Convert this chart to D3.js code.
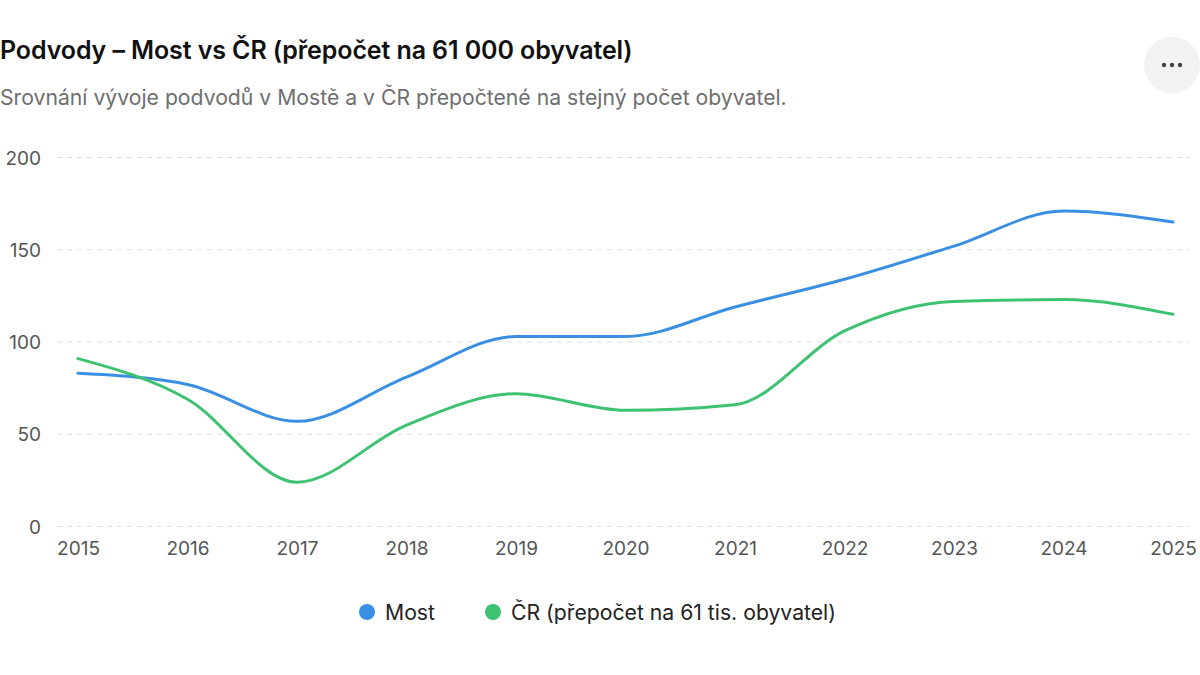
<!DOCTYPE html>
<html><head><meta charset="utf-8">
<script src="https://cdn.jsdelivr.net/npm/d3@7"></script>
<style>
html,body{margin:0;padding:0;background:#fff;}
svg{display:block;font-family:Inter,"Noto Sans",sans-serif;}
</style></head>
<body><svg id="c" width="1200" height="675"></svg>
<script>
const years = [2015,2016,2017,2018,2019,2020,2021,2022,2023,2024,2025];
const most = [83,77,57,81,103,103,119,134,152,171,165];
const cr = [91,69,24,55,72,63,66,106,122,123,115];
const yTicks = [0,50,100,150,200];
const seriesNames = ["Most","ČR (přepočet na 61 tis. obyvatel)"];
const colors = ["#3b8fe3","#3ec272"];

const svg = d3.select("#c");
const x = d3.scalePoint().domain(years).range([78,1173]);
const y = d3.scaleLinear().domain([0,200]).range([526.5,157.5]);

svg.append("text").attr("x",0).attr("y",59).attr("font-size",25).attr("font-weight",600).attr("fill","#111")
  .attr("letter-spacing","-0.1")
  .text("Podvody – Most vs ČR (přepočet na 61 000 obyvatel)");
svg.append("text").attr("x",0).attr("y",105).attr("font-size",21.2).attr("fill","#6e6e6e")
  .text("Srovnání vývoje podvodů v Mostě a v ČR přepočtené na stejný počet obyvatel.");

// menu button
const btn = svg.append("g").attr("transform","translate(1172,65)");
btn.append("circle").attr("r",28).attr("fill","#f2f2f2");
[-8,0,8].forEach(dx=>btn.append("circle").attr("cx",dx).attr("r",2.2).attr("fill","#444"));

// grid
const grid = svg.append("g");
grid.selectAll("line").data(yTicks).join("line")
  .attr("x1",57).attr("x2",1190).attr("y1",d=>y(d)).attr("y2",d=>y(d))
  .attr("stroke","#dedede").attr("stroke-width",1).attr("stroke-dasharray","5,5");

const yAxis = svg.append("g").attr("transform","translate(41,0)")
  .call(d3.axisLeft(y).tickValues(yTicks).tickSize(0).tickPadding(0));
yAxis.select(".domain").remove();
yAxis.selectAll("text").attr("font-size",19).attr("fill","#555").attr("font-family","Inter,'Noto Sans',sans-serif").attr("dy","0.35em");

const xAxis = svg.append("g").attr("transform","translate(0,537)")
  .call(d3.axisBottom(x).tickSize(0).tickPadding(0).tickFormat(d=>String(d)));
xAxis.select(".domain").remove();
xAxis.selectAll("text").attr("font-size",19).attr("fill","#555").attr("font-family","Inter,'Noto Sans',sans-serif").attr("dy","0.95em");

const line = d3.line().x((d,i)=>x(years[i])).y(d=>y(d)).curve(d3.curveMonotoneX);
[most,cr].forEach((s,i)=>{
  svg.append("path").attr("d",line(s)).attr("fill","none").attr("stroke",colors[i])
    .attr("stroke-width",3).attr("stroke-linejoin","round").attr("stroke-linecap","round");
});

// legend
const legX = [367,493];
seriesNames.forEach((n,i)=>{
  svg.append("circle").attr("cx",legX[i]).attr("cy",612).attr("r",8).attr("fill",colors[i]);
  svg.append("text").attr("x",legX[i]+18).attr("y",619.5).attr("font-size",21.2).attr("fill","#222").text(n);
});
</script></body></html>
